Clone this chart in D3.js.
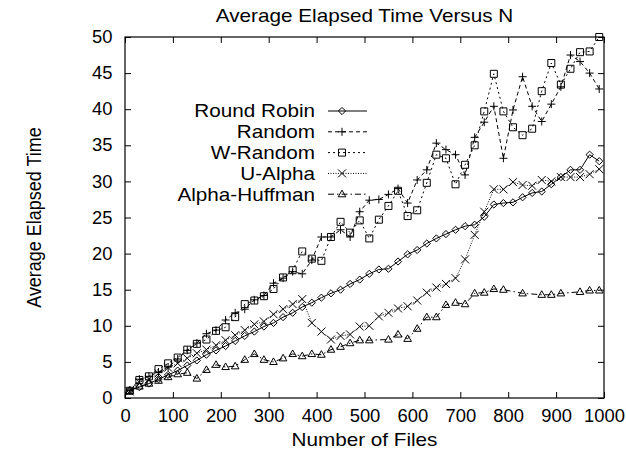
<!DOCTYPE html>
<html>
<head>
<meta charset="utf-8">
<script src="https://cdn.jsdelivr.net/npm/d3@7"></script>
<style>
  body { margin: 0; background: #fff; }
  text { font-family: "Liberation Sans", Arial, sans-serif; fill: #000; }
</style>
</head>
<body>
<svg id="vis-svg"></svg>
<script>
// number of files (x values of every point)
var files = [10, 30, 50, 70, 90, 110, 130, 150, 170, 190,
  210, 230, 250, 270, 290, 310, 330, 350, 370, 390,
  410, 430, 450, 470, 490, 510, 530, 550, 570, 590,
  610, 630, 650, 670, 690, 710, 730, 750, 770, 790,
  810, 830, 850, 870, 890, 910, 930, 950, 970, 990];

var roundRobin = [1.1, 1.5, 2.0, 2.6, 3.2, 3.8, 4.5, 5.2, 6.0, 6.6,
  7.2, 7.9, 8.6, 9.2, 9.9, 10.4, 11.2, 11.8, 12.6, 13.2,
  13.9, 14.5, 15.0, 15.8, 16.4, 17.2, 17.8, 17.9, 18.9, 19.9,
  20.5, 21.4, 22.1, 22.7, 23.3, 23.8, 24.0, 25.1, 26.8, 27.0,
  27.1, 27.8, 28.4, 28.6, 29.6, 30.6, 31.6, 31.6, 33.7, 32.8];

var random = [1.0, 2.6, 3.0, 3.6, 4.3, 5.4, 6.6, 7.6, 8.9, 9.4,
  10.8, 11.8, 12.3, 13.6, 14.2, 15.9, 16.6, 17.5, 17.2, 19.1,
  22.3, 22.3, 23.3, 22.3, 25.8, 27.4, 27.5, 28.2, 29.0, 27.0,
  30.2, 31.6, 35.3, 34.4, 33.7, 30.9, 36.1, 38.2, 40.4, 33.2,
  39.9, 44.5, 40.4, 38.3, 40.7, 43.1, 47.5, 46.6, 45.0, 42.8];

var wRandom = [1.0, 2.5, 3.0, 4.0, 4.8, 5.6, 6.7, 7.5, 8.1, 9.3,
  9.8, 11.2, 13.0, 13.5, 14.1, 15.1, 16.7, 17.7, 20.3, 19.3,
  19.0, 22.3, 24.4, 22.9, 24.6, 22.1, 24.7, 26.6, 28.7, 25.2,
  26.0, 29.8, 33.7, 33.2, 29.6, 32.3, 35.0, 39.7, 44.9, 39.7,
  37.5, 36.4, 37.3, 42.5, 46.4, 43.4, 45.6, 47.9, 48.0, 50.0];

var uAlpha = [0.9, 2.2, 2.6, 3.4, 4.2, 4.8, 5.5, 6.2, 6.7, 7.3,
  8.0, 8.7, 9.4, 10.2, 10.6, 11.6, 12.3, 13.0, 13.7, 10.4,
  9.2, 8.1, 8.6, 8.8, 9.9, 10.0, 11.3, 11.8, 12.4, 12.7,
  13.5, 14.6, 15.3, 15.8, 16.6, 19.2, 22.6, 25.8, 28.9, 28.9,
  29.9, 29.5, 29.4, 30.2, 30.0, 30.6, 30.6, 30.6, 31.0, 31.7];

// null = no point plotted there
var alphaHuffman = [1.0, 1.6, 2.0, 2.4, 2.9, 3.3, 3.5, 2.7, 3.9, 4.6,
  4.3, 4.4, 5.3, 6.1, 5.3, 5.0, 5.5, 6.1, 5.8, 6.1,
  6.0, 6.7, 7.1, 7.6, 8.0, 8.0, null, 8.1, 8.8, 8.2,
  9.6, 11.2, 11.2, 12.9, 13.2, 13.0, 14.5, 14.6, 15.1, 15.0,
  null, 14.5, null, 14.3, 14.3, 14.5, null, 14.7, 14.9, 14.9];

var seriesNames = ["Round Robin", "Random", "W-Random", "U-Alpha", "Alpha-Huffman"];
var xTicks = [0, 100, 200, 300, 400, 500, 600, 700, 800, 900, 1000];
var yTicks = [0, 5, 10, 15, 20, 25, 30, 35, 40, 45, 50];

// marker shapes, centred on 0,0
var markers = {
  diamond: "M0,-3.6L3.6,0L0,3.6L-3.6,0Z",
  plus: "M-4,0H4M0,-4V4",
  square: "M-3.5,-3.5H3.5V3.5H-3.5Z",
  cross: "M-4,-4L4,4M-4,4L4,-4",
  triangle: "M0,-4L3.8,2.6H-3.8Z"
};

// the scanned figure is a bit wider than tall, so text is stretched sideways
var stretch = 1.15;
var tickStretch = 1.05;

function drawChart() {
  var width = 626;
  var height = 454;
  var margin = { top: 37, bottom: 56, left: 125, right: 22 };

  var svg = d3.select('#vis-svg')
    .attr('width', width)
    .attr('height', height);

  var xScale = d3.scaleLinear()
    .domain([0, 1000])
    .range([margin.left, width - margin.right]);

  var yScale = d3.scaleLinear()
    .domain([0, 50])
    .range([height - margin.bottom, margin.top]);

  var x0 = xScale(0), x1 = xScale(1000), y0 = yScale(0), y1 = yScale(50);

  // axes with inward ticks (plus mirrored ticks on top and right)
  svg.append('g')
    .attr('class', 'x axis')
    .attr('transform', `translate(0,${y0})`)
    .call(d3.axisBottom(xScale).tickValues(xTicks).tickFormat(d3.format('d'))
      .tickSizeInner(-6).tickSizeOuter(0).tickPadding(12));
  svg.append('g')
    .attr('class', 'y axis')
    .attr('transform', `translate(${x0},0)`)
    .call(d3.axisLeft(yScale).tickValues(yTicks)
      .tickSizeInner(-6).tickSizeOuter(0).tickPadding(12));
  svg.append('g')
    .attr('transform', `translate(0,${y1})`)
    .call(d3.axisTop(xScale).tickValues(xTicks).tickSizeInner(-6).tickSizeOuter(0).tickFormat(''));
  svg.append('g')
    .attr('transform', `translate(${x1},0)`)
    .call(d3.axisRight(yScale).tickValues(yTicks).tickSizeInner(-6).tickSizeOuter(0).tickFormat(''));

  svg.selectAll('.domain').remove();
  svg.selectAll('.tick line').attr('stroke', '#000').attr('stroke-width', 1);
  svg.selectAll('.tick text')
    .style('font-size', '17.5px')
    .attr('transform', `scale(${tickStretch},1)`);

  // border
  svg.append('rect')
    .attr('x', x0).attr('y', y1)
    .attr('width', x1 - x0).attr('height', y0 - y1)
    .attr('fill', 'none').attr('stroke', '#000').attr('stroke-width', 1.2);

  // titles
  svg.append('text')
    .attr('transform', `translate(${(x0 + x1) / 2},22) scale(${stretch},1)`)
    .attr('text-anchor', 'middle').style('font-size', '18px')
    .text('Average Elapsed Time Versus N');
  svg.append('text')
    .attr('transform', `translate(${(x0 + x1) / 2},446) scale(${stretch},1)`)
    .attr('text-anchor', 'middle').style('font-size', '18px')
    .text('Number of Files');
  svg.append('text')
    .attr('transform', `translate(41,${(y0 + y1) / 2}) scale(${stretch},1) rotate(-90)`)
    .attr('text-anchor', 'middle').style('font-size', '18px')
    .text('Average Elapsed Time');

  var series = [
    { name: seriesNames[0], values: roundRobin, dash: null, marker: 'diamond' },
    { name: seriesNames[1], values: random, dash: '4,3', marker: 'plus' },
    { name: seriesNames[2], values: wRandom, dash: '2,3', marker: 'square' },
    { name: seriesNames[3], values: uAlpha, dash: '1,1.5', marker: 'cross' },
    { name: seriesNames[4], values: alphaHuffman, dash: '6,3,1.5,3', marker: 'triangle' }
  ];

  var line = d3.line()
    .x(function(d) { return xScale(d.n); })
    .y(function(d) { return yScale(d.v); });

  series.forEach(function(s) {
    var pts = files.map(function(n, i) { return { n: n, v: s.values[i] }; })
      .filter(function(d) { return d.v != null; });

    svg.append('path')
      .datum(pts)
      .attr('d', line)
      .attr('fill', 'none')
      .attr('stroke', '#000')
      .attr('stroke-width', 1)
      .attr('stroke-dasharray', s.dash);

    svg.append('g').selectAll('path')
      .data(pts)
      .enter()
      .append('path')
      .attr('transform', function(d) { return `translate(${xScale(d.n)},${yScale(d.v)})`; })
      .attr('d', markers[s.marker])
      .attr('fill', 'none')
      .attr('stroke', '#000')
      .attr('stroke-width', 1);
  });

  // legend
  var legend = svg.append('g');
  series.forEach(function(s, i) {
    var ly = 111 + i * 20.8;
    legend.append('text')
      .attr('transform', `translate(315,${ly}) scale(${stretch},1)`)
      .attr('dy', '0.35em')
      .attr('text-anchor', 'end').style('font-size', '18px')
      .text(s.name);
    legend.append('line')
      .attr('x1', 328).attr('x2', 367).attr('y1', ly).attr('y2', ly)
      .attr('stroke', '#000').attr('stroke-width', 1)
      .attr('stroke-dasharray', s.dash);
    legend.append('path')
      .attr('transform', `translate(342,${ly})`)
      .attr('d', markers[s.marker])
      .attr('fill', 'none').attr('stroke', '#000').attr('stroke-width', 1);
  });
}

drawChart();
</script>
</body>
</html>
